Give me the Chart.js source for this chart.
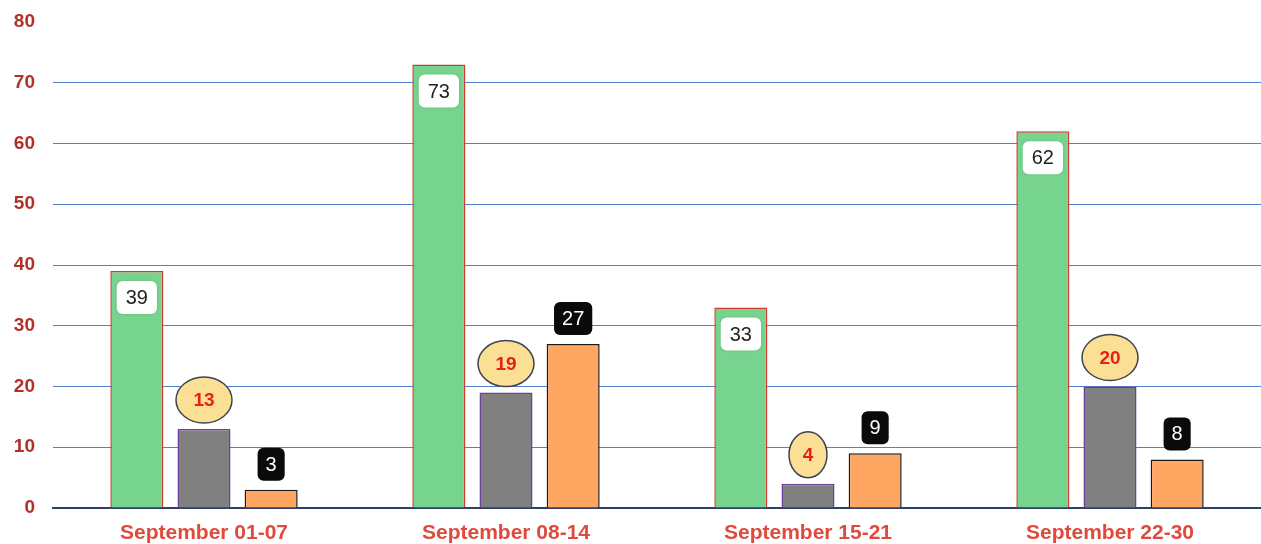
<!DOCTYPE html>
<html>
<head>
<meta charset="utf-8">
<script src="https://cdn.jsdelivr.net/npm/chart.js@4/dist/chart.umd.min.js"></script>
<style>
  html, body { margin: 0; padding: 0; background: #fff; }
  #wrap { width: 1261px; height: 544px; position: relative; }
</style>
</head>
<body>
<div id="wrap"><canvas id="weekChart"></canvas></div>
<script>
// values
const weeks = ["September 01-07", "September 08-14", "September 15-21", "September 22-30"];
const greenValues = [39, 73, 33, 62];
const grayValues = [13, 19, 4, 20];
const orangeValues = [3, 27, 9, 8];
const yTicks = [0, 10, 20, 30, 40, 50, 60, 70, 80];

const FONT = "Arial, 'Liberation Sans', sans-serif";

function roundBox(ctx, x, y, w, h, r) {
  ctx.beginPath();
  ctx.moveTo(x + r, y);
  ctx.arcTo(x + w, y, x + w, y + h, r);
  ctx.arcTo(x + w, y + h, x, y + h, r);
  ctx.arcTo(x, y + h, x, y, r);
  ctx.arcTo(x, y, x + w, y, r);
  ctx.closePath();
}

// value badges: white box inside green, yellow ellipse over gray, black box over orange
const badgePlugin = {
  id: "badges",
  afterDatasetsDraw(chart) {
    const ctx = chart.ctx;
    ctx.save();
    ctx.textAlign = "center";
    ctx.textBaseline = "middle";
    chart.data.datasets.forEach((ds, i) => {
      const meta = chart.getDatasetMeta(i);
      meta.data.forEach((bar, j) => {
        const txt = String(ds.data[j]);
        if (i === 0) {
          ctx.font = "20px " + FONT;
          const w = ctx.measureText(txt).width + 18;
          const h = 33;
          const top = bar.y + 10;
          ctx.shadowColor = "rgba(0,0,0,0.15)";
          ctx.shadowBlur = 3;
          roundBox(ctx, bar.x - w / 2, top, w, h, 6);
          ctx.fillStyle = "#ffffff";
          ctx.fill();
          ctx.shadowBlur = 0;
          ctx.fillStyle = "#222222";
          ctx.fillText(txt, bar.x, top + h / 2 + 1);
        } else if (i === 1) {
          ctx.font = "bold 19px " + FONT;
          const rx = txt.length > 1 ? 28 : 19;
          const ry = 23;
          const cy = bar.y - 6 - ry;
          ctx.beginPath();
          ctx.ellipse(bar.x, cy, rx, ry, 0, 0, Math.PI * 2);
          ctx.fillStyle = "#fbdf95";
          ctx.fill();
          ctx.lineWidth = 1.5;
          ctx.strokeStyle = "#3c4450";
          ctx.stroke();
          ctx.fillStyle = "#e8201a";
          ctx.fillText(txt, bar.x, cy + 1);
        } else {
          ctx.font = "20px " + FONT;
          const w = ctx.measureText(txt).width + 16;
          const h = 33;
          const top = bar.y - 9 - h;
          roundBox(ctx, bar.x - w / 2, top, w, h, 6);
          ctx.fillStyle = "#0a0a0a";
          ctx.fill();
          ctx.fillStyle = "#ffffff";
          ctx.fillText(txt, bar.x, top + h / 2 + 1);
        }
      });
    });
    ctx.restore();
  }
};

const ctx = document.getElementById("weekChart").getContext("2d");
new Chart(ctx, {
  type: "bar",
  data: {
    labels: weeks,
    datasets: [
      {
        label: "Green",
        data: greenValues,
        backgroundColor: "#77d48f",
        borderColor: "#d0392b",
        borderWidth: 1.5,
      },
      {
        label: "Gray",
        data: grayValues,
        backgroundColor: "#808080",
        borderColor: "#6b3f9c",
        borderWidth: 1.5,
      },
      {
        label: "Orange",
        data: orangeValues,
        backgroundColor: "#ffa663",
        borderColor: "#1a1a1a",
        borderWidth: 1.5,
      },
    ],
  },
  options: {
    responsive: true,
    maintainAspectRatio: false,
    animation: false,
    categoryPercentage: 0.667,
    barPercentage: 0.79,
    layout: { padding: { top: 22, right: 0, bottom: 0, left: 0 } },
    plugins: {
      legend: { display: false },
      tooltip: { enabled: false },
    },
    scales: {
      x: {
        afterFit: (axis) => { axis.height = 36; },
        grid: { display: false, drawTicks: false },
        border: { color: "#2f3f6a", width: 2 },
        ticks: {
          padding: 13,
          color: "#e04a3c",
          font: { family: FONT, size: 21, weight: "bold" },
        },
      },
      y: {
        min: 0,
        max: 80,
        afterBuildTicks: (axis) => {
          axis.ticks = yTicks.map((v) => ({ value: v }));
        },
        afterFit: (axis) => {
          axis.width = 53;
          axis.paddingTop = 0;
          axis.paddingBottom = 0;
        },
        border: { display: false },
        grid: {
          drawTicks: false,
          color: (c) => (c.tick && c.tick.value === 80 ? "rgba(0,0,0,0)" : "#4f82cb"),
          lineWidth: 1,
        },
        ticks: {
          padding: 18,
          color: "#b3302a",
          font: { family: FONT, size: 19, weight: "bold" },
        },
      },
    },
  },
  plugins: [badgePlugin],
});
</script>
</body>
</html>
